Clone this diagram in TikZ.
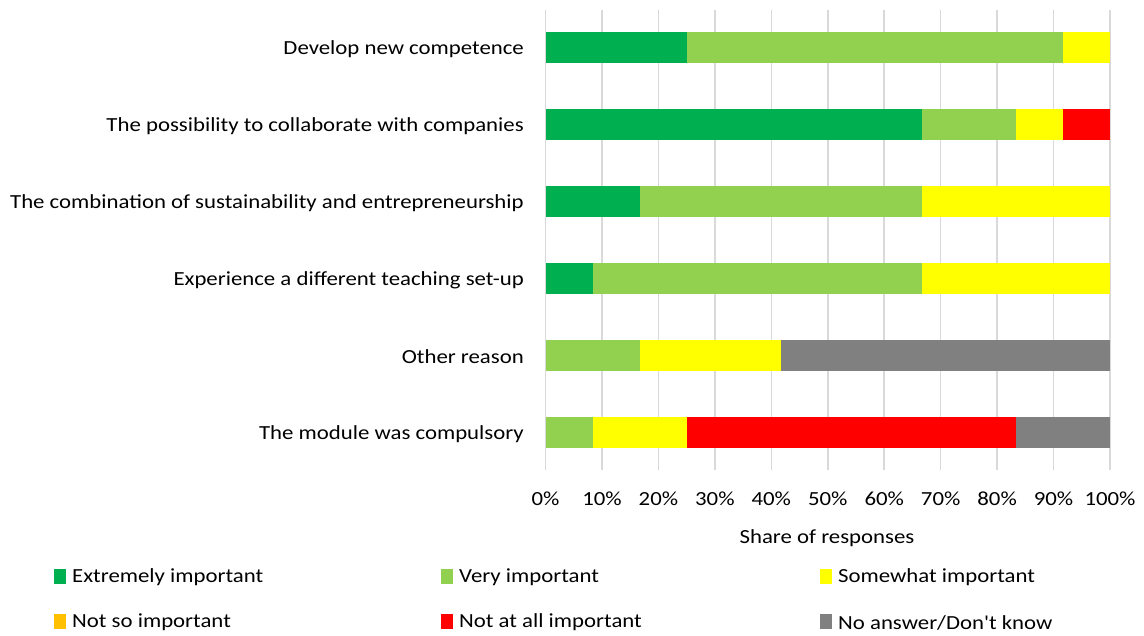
\documentclass[tikz,border=0pt]{standalone}
\usepackage{fontspec}
\setmainfont{Carlito}
\definecolor{cExt}{HTML}{00B050}
\definecolor{cVery}{HTML}{92D050}
\definecolor{cSome}{HTML}{FFFF00}
\definecolor{cNotso}{HTML}{FFC000}
\definecolor{cNotall}{HTML}{FF0000}
\definecolor{cNA}{HTML}{808080}
\definecolor{cGrid}{HTML}{D9D9D9}
\newcommand{\wtxt}[1]{\scalebox{1.14}[1]{#1}}
\begin{document}
\begin{tikzpicture}[x=1pt,y=-1pt,
  lab/.style={anchor=east,inner sep=0pt,yshift=-1.5pt,font=\fontsize{20}{22}\selectfont},
  tick/.style={anchor=center,inner sep=0pt,yshift=-1.5pt,font=\fontsize{20}{22}\selectfont},
  leg/.style={anchor=west,inner sep=0pt,yshift=-1.5pt,font=\fontsize{20}{22}\selectfont},
  gridl/.style={draw=cGrid,line width=1.5pt},
  sw/.style={minimum width=12pt,minimum height=15pt,inner sep=0pt}]
\useasboundingbox (0,0) rectangle (1144,635);
\fill[white] (0,0) rectangle (1144,635);
% gridlines
\foreach \i in {0,...,10}{
  \pgfmathtruncatemacro{\pct}{\i*10}
  \draw[gridl] ({545.5+\i*56.45},10) -- ({545.5+\i*56.45},470);
  \node[tick] (t\i) at ({545.5+\i*56.45},497) {\wtxt{\pct\%}};
}
% bars: macro
\newcommand{\seg}[4]{\fill[#4] ({545.5+#1*5.645},{#3-15.8}) rectangle ({545.5+#2*5.645},{#3+15.8});}
% row 1
\seg{0}{25}{47.5}{cExt}\seg{25}{91.667}{47.5}{cVery}\seg{91.667}{100}{47.5}{cSome}
% row 2
\seg{0}{66.667}{124.5}{cExt}\seg{66.667}{83.333}{124.5}{cVery}\seg{83.333}{91.667}{124.5}{cSome}\seg{91.667}{100}{124.5}{cNotall}
% row 3
\seg{0}{16.667}{201.5}{cExt}\seg{16.667}{66.667}{201.5}{cVery}\seg{66.667}{100}{201.5}{cSome}
% row 4
\seg{0}{8.333}{278.5}{cExt}\seg{8.333}{66.667}{278.5}{cVery}\seg{66.667}{100}{278.5}{cSome}
% row 5
\seg{0}{16.667}{355.5}{cVery}\seg{16.667}{41.667}{355.5}{cSome}\seg{41.667}{100}{355.5}{cNA}
% row 6
\seg{0}{8.333}{432.5}{cVery}\seg{8.333}{25}{432.5}{cSome}\seg{25}{83.333}{432.5}{cNotall}\seg{83.333}{100}{432.5}{cNA}
% labels
\node[lab] (l1) at (524,47.5) {\wtxt{Develop new competence}};
\node[lab] (l2) at (524,124.5) {\wtxt{The possibility to collaborate with companies}};
\node[lab] (l3) at (524,201.5) {\wtxt{The combination of sustainability and entrepreneurship}};
\node[lab] (l4) at (524,278.5) {\wtxt{Experience a different teaching set-up}};
\node[lab] (l5) at (524,355.5) {\wtxt{Other reason}};
\node[lab] (l6) at (524,432.5) {\wtxt{The module was compulsory}};
\node[tick] (xt) at (827,537) {\wtxt{Share of responses}};
% legend
\node[sw,fill=cExt] (s1) at (60,576) {};
\node[leg] (g1) at (72,576) {\wtxt{Extremely important}};
\node[sw,fill=cVery] (s2) at (447,576) {};
\node[leg] (g2) at (459,576) {\wtxt{Very important}};
\node[sw,fill=cSome] (s3) at (826,576) {};
\node[leg] (g3) at (838,576) {\wtxt{Somewhat important}};
\node[sw,fill=cNotso] (s4) at (60,621) {};
\node[leg] (g4) at (72,621) {\wtxt{Not so important}};
\node[sw,fill=cNotall] (s5) at (447,621) {};
\node[leg] (g5) at (459,621) {\wtxt{Not at all important}};
\node[sw,fill=cNA] (s6) at (826,621) {};
\node[leg] (g6) at (838,621) {\wtxt{No answer/Don\textquotesingle t know}};
\end{tikzpicture}
\end{document}
